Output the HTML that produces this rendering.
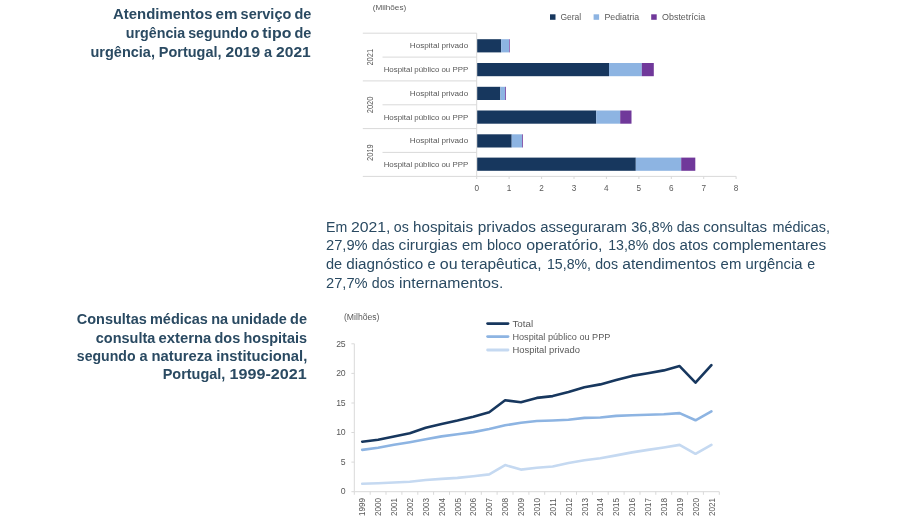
<!DOCTYPE html>
<html lang="pt"><head><meta charset="utf-8"><title>Atendimentos em serviço de urgência</title>
<style>html,body{margin:0;padding:0;background:#fff;}body{width:900px;height:527px;overflow:hidden;}svg{display:block;}text{font-family:"Liberation Sans",sans-serif;}.t{font-weight:bold;font-size:15px;fill:#2a4a62;}.p{font-size:15.2px;fill:#2a4a62;}.c{font-size:8px;fill:#595959;}</style></head><body>
<svg width="900" height="527" viewBox="0 0 900 527">
<rect width="900" height="527" fill="#fff"/>
<text class="t" y="19.0"><tspan x="113.0" textLength="99.5" lengthAdjust="spacingAndGlyphs">Atendimentos</tspan> <tspan x="215.6" textLength="21.9" lengthAdjust="spacingAndGlyphs">em</tspan> <tspan x="240.6" textLength="50.7" lengthAdjust="spacingAndGlyphs">serviço</tspan> <tspan x="294.4" textLength="16.9" lengthAdjust="spacingAndGlyphs">de</tspan></text>
<text class="t" y="37.8"><tspan x="125.8" textLength="59.4" lengthAdjust="spacingAndGlyphs">urgência</tspan> <tspan x="188.2" textLength="59.4" lengthAdjust="spacingAndGlyphs">segundo</tspan> <tspan x="250.5" textLength="8.8" lengthAdjust="spacingAndGlyphs">o</tspan> <tspan x="262.3" textLength="29.1" lengthAdjust="spacingAndGlyphs">tipo</tspan> <tspan x="294.4" textLength="16.9" lengthAdjust="spacingAndGlyphs">de</tspan></text>
<text class="t" y="56.6"><tspan x="90.5" textLength="64.4" lengthAdjust="spacingAndGlyphs">urgência,</tspan> <tspan x="158.8" textLength="62.7" lengthAdjust="spacingAndGlyphs">Portugal,</tspan> <tspan x="225.5" textLength="34.7" lengthAdjust="spacingAndGlyphs">2019</tspan> <tspan x="264.1" textLength="8.1" lengthAdjust="spacingAndGlyphs">a</tspan> <tspan x="276.1" textLength="34.7" lengthAdjust="spacingAndGlyphs">2021</tspan></text>
<text class="t" y="324.2"><tspan x="76.8" textLength="70.0" lengthAdjust="spacingAndGlyphs">Consultas</tspan> <tspan x="150.0" textLength="57.9" lengthAdjust="spacingAndGlyphs">médicas</tspan> <tspan x="211.2" textLength="16.9" lengthAdjust="spacingAndGlyphs">na</tspan> <tspan x="231.4" textLength="55.5" lengthAdjust="spacingAndGlyphs">unidade</tspan> <tspan x="290.1" textLength="16.9" lengthAdjust="spacingAndGlyphs">de</tspan></text>
<text class="t" y="342.5"><tspan x="95.8" textLength="59.5" lengthAdjust="spacingAndGlyphs">consulta</tspan> <tspan x="158.5" textLength="52.8" lengthAdjust="spacingAndGlyphs">externa</tspan> <tspan x="214.5" textLength="25.7" lengthAdjust="spacingAndGlyphs">dos</tspan> <tspan x="243.5" textLength="63.5" lengthAdjust="spacingAndGlyphs">hospitais</tspan></text>
<text class="t" y="360.8"><tspan x="76.8" textLength="58.7" lengthAdjust="spacingAndGlyphs">segundo</tspan> <tspan x="139.5" textLength="8.1" lengthAdjust="spacingAndGlyphs">a</tspan> <tspan x="151.5" textLength="60.8" lengthAdjust="spacingAndGlyphs">natureza</tspan> <tspan x="216.2" textLength="91.1" lengthAdjust="spacingAndGlyphs">institucional,</tspan></text>
<text class="t" y="379.3"><tspan x="162.7" textLength="62.7" lengthAdjust="spacingAndGlyphs">Portugal,</tspan> <tspan x="229.6" textLength="77.1" lengthAdjust="spacingAndGlyphs">1999-2021</tspan></text>
<text class="p" y="231.5"><tspan x="326.1" textLength="21.2" lengthAdjust="spacingAndGlyphs">Em</tspan> <tspan x="351.0" textLength="39.5" lengthAdjust="spacingAndGlyphs">2021,</tspan> <tspan x="393.8" textLength="15.0" lengthAdjust="spacingAndGlyphs">os</tspan> <tspan x="413.1" textLength="59.9" lengthAdjust="spacingAndGlyphs">hospitais</tspan> <tspan x="477.8" textLength="58.1" lengthAdjust="spacingAndGlyphs">privados</tspan> <tspan x="540.2" textLength="86.6" lengthAdjust="spacingAndGlyphs">asseguraram</tspan> <tspan x="631.2" textLength="41.6" lengthAdjust="spacingAndGlyphs">36,8%</tspan> <tspan x="676.7" textLength="22.8" lengthAdjust="spacingAndGlyphs">das</tspan> <tspan x="703.3" textLength="63.8" lengthAdjust="spacingAndGlyphs">consultas</tspan> <tspan x="772.4" textLength="57.6" lengthAdjust="spacingAndGlyphs">médicas,</tspan></text>
<text class="p" y="250.4"><tspan x="326.0" textLength="41.6" lengthAdjust="spacingAndGlyphs">27,9%</tspan> <tspan x="371.8" textLength="22.8" lengthAdjust="spacingAndGlyphs">das</tspan> <tspan x="398.6" textLength="59.0" lengthAdjust="spacingAndGlyphs">cirurgias</tspan> <tspan x="462.0" textLength="20.6" lengthAdjust="spacingAndGlyphs">em</tspan> <tspan x="487.0" textLength="34.7" lengthAdjust="spacingAndGlyphs">bloco</tspan> <tspan x="526.2" textLength="76.3" lengthAdjust="spacingAndGlyphs">operatório,</tspan> <tspan x="608.2" textLength="40.1" lengthAdjust="spacingAndGlyphs">13,8%</tspan> <tspan x="652.5" textLength="22.8" lengthAdjust="spacingAndGlyphs">dos</tspan> <tspan x="679.6" textLength="28.5" lengthAdjust="spacingAndGlyphs">atos</tspan> <tspan x="712.7" textLength="113.6" lengthAdjust="spacingAndGlyphs">complementares</tspan></text>
<text class="p" y="269.2"><tspan x="326.0" textLength="16.2" lengthAdjust="spacingAndGlyphs">de</tspan> <tspan x="346.2" textLength="77.1" lengthAdjust="spacingAndGlyphs">diagnóstico</tspan> <tspan x="427.6" textLength="8.1" lengthAdjust="spacingAndGlyphs">e</tspan> <tspan x="439.8" textLength="17.8" lengthAdjust="spacingAndGlyphs">ou</tspan> <tspan x="460.9" textLength="80.6" lengthAdjust="spacingAndGlyphs">terapêutica,</tspan> <tspan x="547.0" textLength="44.0" lengthAdjust="spacingAndGlyphs">15,8%,</tspan> <tspan x="595.2" textLength="22.8" lengthAdjust="spacingAndGlyphs">dos</tspan> <tspan x="622.3" textLength="93.7" lengthAdjust="spacingAndGlyphs">atendimentos</tspan> <tspan x="720.6" textLength="20.7" lengthAdjust="spacingAndGlyphs">em</tspan> <tspan x="745.6" textLength="57.0" lengthAdjust="spacingAndGlyphs">urgência</tspan> <tspan x="807.3" textLength="7.9" lengthAdjust="spacingAndGlyphs">e</tspan></text>
<text class="p" y="288.0"><tspan x="326.0" textLength="41.6" lengthAdjust="spacingAndGlyphs">27,7%</tspan> <tspan x="371.8" textLength="22.8" lengthAdjust="spacingAndGlyphs">dos</tspan> <tspan x="399.1" textLength="104.2" lengthAdjust="spacingAndGlyphs">internamentos.</tspan></text>
<text class="c" x="372.7" y="10.4" textLength="33.5" lengthAdjust="spacingAndGlyphs">(Milhões)</text>
<rect x="550.0" y="14.3" width="5.5" height="5.5" fill="#17375e"/>
<text class="c" x="560.4" y="20.0" textLength="20.8" lengthAdjust="spacingAndGlyphs" style="font-size:8.8px">Geral</text>
<rect x="593.6" y="14.3" width="5.5" height="5.5" fill="#8db4e2"/>
<text class="c" x="604.4" y="20.0" textLength="34.8" lengthAdjust="spacingAndGlyphs" style="font-size:8.8px">Pediatria</text>
<rect x="651.2" y="14.3" width="5.5" height="5.5" fill="#70389a"/>
<text class="c" x="662.0" y="20.0" textLength="43.2" lengthAdjust="spacingAndGlyphs" style="font-size:8.8px">Obstetrícia</text>
<g stroke="#d9d9d9" stroke-width="1" fill="none">
<path d="M362.8 33.2H476.7"/>
<path d="M382.5 57.1H476.7"/>
<path d="M362.8 80.9H476.7"/>
<path d="M382.5 104.8H476.7"/>
<path d="M362.8 128.6H476.7"/>
<path d="M382.5 152.4H476.7"/>
<path d="M476.7 33.2V176.4"/>
<path d="M362.8 176.4H736.2"/>
<path d="M476.7 176.4V179"/>
<path d="M509.1 176.4V179"/>
<path d="M541.6 176.4V179"/>
<path d="M574.0 176.4V179"/>
<path d="M606.4 176.4V179"/>
<path d="M638.9 176.4V179"/>
<path d="M671.3 176.4V179"/>
<path d="M703.7 176.4V179"/>
<path d="M736.1 176.4V179"/>
</g>
<text class="c" x="476.7" y="190.5" text-anchor="middle" style="font-size:8.2px">0</text>
<text class="c" x="509.1" y="190.5" text-anchor="middle" style="font-size:8.2px">1</text>
<text class="c" x="541.6" y="190.5" text-anchor="middle" style="font-size:8.2px">2</text>
<text class="c" x="574.0" y="190.5" text-anchor="middle" style="font-size:8.2px">3</text>
<text class="c" x="606.4" y="190.5" text-anchor="middle" style="font-size:8.2px">4</text>
<text class="c" x="638.9" y="190.5" text-anchor="middle" style="font-size:8.2px">5</text>
<text class="c" x="671.3" y="190.5" text-anchor="middle" style="font-size:8.2px">6</text>
<text class="c" x="703.7" y="190.5" text-anchor="middle" style="font-size:8.2px">7</text>
<text class="c" x="736.1" y="190.5" text-anchor="middle" style="font-size:8.2px">8</text>
<rect x="477.2" y="39.2" width="24.0" height="13.2" fill="#17375e"/>
<rect x="501.2" y="39.2" width="7.8" height="13.2" fill="#8db4e2"/>
<rect x="509.0" y="39.2" width="0.7" height="13.2" fill="#70389a"/>
<text class="c" x="468.2" y="48.2" text-anchor="end" textLength="58.4" lengthAdjust="spacingAndGlyphs" style="font-size:7.8px">Hospital privado</text>
<rect x="477.2" y="63.0" width="131.8" height="13.2" fill="#17375e"/>
<rect x="609.0" y="63.0" width="32.8" height="13.2" fill="#8db4e2"/>
<rect x="641.8" y="63.0" width="12.0" height="13.2" fill="#70389a"/>
<text class="c" x="468.2" y="72.0" text-anchor="end" textLength="84.5" lengthAdjust="spacingAndGlyphs" style="font-size:7.8px">Hospital público ou PPP</text>
<rect x="477.2" y="86.8" width="23.1" height="13.2" fill="#17375e"/>
<rect x="500.3" y="86.8" width="4.9" height="13.2" fill="#8db4e2"/>
<rect x="505.2" y="86.8" width="0.8" height="13.2" fill="#70389a"/>
<text class="c" x="468.2" y="95.8" text-anchor="end" textLength="58.4" lengthAdjust="spacingAndGlyphs" style="font-size:7.8px">Hospital privado</text>
<rect x="477.2" y="110.5" width="119.0" height="13.2" fill="#17375e"/>
<rect x="596.2" y="110.5" width="24.0" height="13.2" fill="#8db4e2"/>
<rect x="620.2" y="110.5" width="11.3" height="13.2" fill="#70389a"/>
<text class="c" x="468.2" y="119.5" text-anchor="end" textLength="84.5" lengthAdjust="spacingAndGlyphs" style="font-size:7.8px">Hospital público ou PPP</text>
<rect x="477.2" y="134.3" width="34.5" height="13.2" fill="#17375e"/>
<rect x="511.7" y="134.3" width="10.3" height="13.2" fill="#8db4e2"/>
<rect x="522.0" y="134.3" width="0.8" height="13.2" fill="#70389a"/>
<text class="c" x="468.2" y="143.3" text-anchor="end" textLength="58.4" lengthAdjust="spacingAndGlyphs" style="font-size:7.8px">Hospital privado</text>
<rect x="477.2" y="157.6" width="158.6" height="13.2" fill="#17375e"/>
<rect x="635.8" y="157.6" width="45.4" height="13.2" fill="#8db4e2"/>
<rect x="681.2" y="157.6" width="14.1" height="13.2" fill="#70389a"/>
<text class="c" x="468.2" y="166.6" text-anchor="end" textLength="84.5" lengthAdjust="spacingAndGlyphs" style="font-size:7.8px">Hospital público ou PPP</text>
<text class="c" transform="translate(372.6 57.2) rotate(-90)" text-anchor="middle" textLength="16.8" lengthAdjust="spacingAndGlyphs" style="font-size:9px">2021</text>
<text class="c" transform="translate(372.6 104.9) rotate(-90)" text-anchor="middle" textLength="16.8" lengthAdjust="spacingAndGlyphs" style="font-size:9px">2020</text>
<text class="c" transform="translate(372.6 152.6) rotate(-90)" text-anchor="middle" textLength="16.8" lengthAdjust="spacingAndGlyphs" style="font-size:9px">2019</text>
<text class="c" x="344.0" y="319.7" textLength="35.5" lengthAdjust="spacingAndGlyphs" style="font-size:8.4px">(Milhões)</text>
<g stroke="#d9d9d9" stroke-width="1" fill="none">
<path d="M354.3 343.7V491.7"/>
<path d="M354.3 491.7H719.3"/>
<path d="M351.4 491.7H354.3"/>
<path d="M351.4 462.1H354.3"/>
<path d="M351.4 432.5H354.3"/>
<path d="M351.4 403.0H354.3"/>
<path d="M351.4 373.4H354.3"/>
<path d="M351.4 343.8H354.3"/>
<path d="M354.3 491.7V494.8"/>
<path d="M370.2 491.7V494.8"/>
<path d="M386.0 491.7V494.8"/>
<path d="M401.9 491.7V494.8"/>
<path d="M417.8 491.7V494.8"/>
<path d="M433.6 491.7V494.8"/>
<path d="M449.5 491.7V494.8"/>
<path d="M465.4 491.7V494.8"/>
<path d="M481.3 491.7V494.8"/>
<path d="M497.1 491.7V494.8"/>
<path d="M513.0 491.7V494.8"/>
<path d="M528.9 491.7V494.8"/>
<path d="M544.7 491.7V494.8"/>
<path d="M560.6 491.7V494.8"/>
<path d="M576.5 491.7V494.8"/>
<path d="M592.4 491.7V494.8"/>
<path d="M608.2 491.7V494.8"/>
<path d="M624.1 491.7V494.8"/>
<path d="M640.0 491.7V494.8"/>
<path d="M655.8 491.7V494.8"/>
<path d="M671.7 491.7V494.8"/>
<path d="M687.6 491.7V494.8"/>
<path d="M703.4 491.7V494.8"/>
<path d="M719.3 491.7V494.8"/>
</g>
<text class="c" x="345.3" y="494.4" text-anchor="end" style="font-size:8.7px;letter-spacing:-0.3px">0</text>
<text class="c" x="345.3" y="464.8" text-anchor="end" style="font-size:8.7px;letter-spacing:-0.3px">5</text>
<text class="c" x="345.3" y="435.2" text-anchor="end" style="font-size:8.7px;letter-spacing:-0.3px">10</text>
<text class="c" x="345.3" y="405.7" text-anchor="end" style="font-size:8.7px;letter-spacing:-0.3px">15</text>
<text class="c" x="345.3" y="376.1" text-anchor="end" style="font-size:8.7px;letter-spacing:-0.3px">20</text>
<text class="c" x="345.3" y="346.5" text-anchor="end" style="font-size:8.7px;letter-spacing:-0.3px">25</text>
<text class="c" transform="translate(365.3 498.0) rotate(-90)" text-anchor="end" textLength="18.1" lengthAdjust="spacingAndGlyphs" style="font-size:9.4px">1999</text>
<text class="c" transform="translate(381.2 498.0) rotate(-90)" text-anchor="end" textLength="18.1" lengthAdjust="spacingAndGlyphs" style="font-size:9.4px">2000</text>
<text class="c" transform="translate(397.1 498.0) rotate(-90)" text-anchor="end" textLength="18.1" lengthAdjust="spacingAndGlyphs" style="font-size:9.4px">2001</text>
<text class="c" transform="translate(412.9 498.0) rotate(-90)" text-anchor="end" textLength="18.1" lengthAdjust="spacingAndGlyphs" style="font-size:9.4px">2002</text>
<text class="c" transform="translate(428.8 498.0) rotate(-90)" text-anchor="end" textLength="18.1" lengthAdjust="spacingAndGlyphs" style="font-size:9.4px">2003</text>
<text class="c" transform="translate(444.7 498.0) rotate(-90)" text-anchor="end" textLength="18.1" lengthAdjust="spacingAndGlyphs" style="font-size:9.4px">2004</text>
<text class="c" transform="translate(460.6 498.0) rotate(-90)" text-anchor="end" textLength="18.1" lengthAdjust="spacingAndGlyphs" style="font-size:9.4px">2005</text>
<text class="c" transform="translate(476.4 498.0) rotate(-90)" text-anchor="end" textLength="18.1" lengthAdjust="spacingAndGlyphs" style="font-size:9.4px">2006</text>
<text class="c" transform="translate(492.3 498.0) rotate(-90)" text-anchor="end" textLength="18.1" lengthAdjust="spacingAndGlyphs" style="font-size:9.4px">2007</text>
<text class="c" transform="translate(508.2 498.0) rotate(-90)" text-anchor="end" textLength="18.1" lengthAdjust="spacingAndGlyphs" style="font-size:9.4px">2008</text>
<text class="c" transform="translate(524.0 498.0) rotate(-90)" text-anchor="end" textLength="18.1" lengthAdjust="spacingAndGlyphs" style="font-size:9.4px">2009</text>
<text class="c" transform="translate(539.9 498.0) rotate(-90)" text-anchor="end" textLength="18.1" lengthAdjust="spacingAndGlyphs" style="font-size:9.4px">2010</text>
<text class="c" transform="translate(555.8 498.0) rotate(-90)" text-anchor="end" textLength="18.1" lengthAdjust="spacingAndGlyphs" style="font-size:9.4px">2011</text>
<text class="c" transform="translate(571.6 498.0) rotate(-90)" text-anchor="end" textLength="18.1" lengthAdjust="spacingAndGlyphs" style="font-size:9.4px">2012</text>
<text class="c" transform="translate(587.5 498.0) rotate(-90)" text-anchor="end" textLength="18.1" lengthAdjust="spacingAndGlyphs" style="font-size:9.4px">2013</text>
<text class="c" transform="translate(603.4 498.0) rotate(-90)" text-anchor="end" textLength="18.1" lengthAdjust="spacingAndGlyphs" style="font-size:9.4px">2014</text>
<text class="c" transform="translate(619.3 498.0) rotate(-90)" text-anchor="end" textLength="18.1" lengthAdjust="spacingAndGlyphs" style="font-size:9.4px">2015</text>
<text class="c" transform="translate(635.1 498.0) rotate(-90)" text-anchor="end" textLength="18.1" lengthAdjust="spacingAndGlyphs" style="font-size:9.4px">2016</text>
<text class="c" transform="translate(651.0 498.0) rotate(-90)" text-anchor="end" textLength="18.1" lengthAdjust="spacingAndGlyphs" style="font-size:9.4px">2017</text>
<text class="c" transform="translate(666.9 498.0) rotate(-90)" text-anchor="end" textLength="18.1" lengthAdjust="spacingAndGlyphs" style="font-size:9.4px">2018</text>
<text class="c" transform="translate(682.7 498.0) rotate(-90)" text-anchor="end" textLength="18.1" lengthAdjust="spacingAndGlyphs" style="font-size:9.4px">2019</text>
<text class="c" transform="translate(698.6 498.0) rotate(-90)" text-anchor="end" textLength="18.1" lengthAdjust="spacingAndGlyphs" style="font-size:9.4px">2020</text>
<text class="c" transform="translate(714.5 498.0) rotate(-90)" text-anchor="end" textLength="18.1" lengthAdjust="spacingAndGlyphs" style="font-size:9.4px">2021</text>
<polyline points="362.2,483.7 378.1,483.2 394.0,482.5 409.8,481.8 425.7,480.0 441.6,478.9 457.5,477.9 473.3,476.2 489.2,474.4 505.1,465.1 520.9,469.6 536.8,467.8 552.7,466.5 568.5,463.0 584.4,460.3 600.3,458.3 616.2,455.4 632.0,452.4 647.9,449.9 663.8,447.5 679.6,444.9 695.5,453.8 711.4,444.9" fill="none" stroke="#c5d9f1" stroke-width="2.6" stroke-linecap="round" stroke-linejoin="round"/>
<polyline points="362.2,449.9 378.1,447.8 394.0,444.8 409.8,442.2 425.7,439.3 441.6,436.4 457.5,434.2 473.3,432.1 489.2,429.0 505.1,425.3 520.9,422.7 536.8,421.0 552.7,420.5 568.5,419.8 584.4,417.9 600.3,417.5 616.2,415.9 632.0,415.3 647.9,414.8 663.8,414.3 679.6,413.1 695.5,420.3 711.4,411.4" fill="none" stroke="#8db4e2" stroke-width="2.6" stroke-linecap="round" stroke-linejoin="round"/>
<polyline points="362.2,441.7 378.1,439.8 394.0,436.4 409.8,433.3 425.7,427.8 441.6,423.9 457.5,420.5 473.3,416.7 489.2,412.2 505.1,400.3 520.9,402.2 536.8,397.9 552.7,396.1 568.5,392.0 584.4,387.2 600.3,384.4 616.2,380.0 632.0,375.9 647.9,373.3 663.8,370.4 679.6,366.1 695.5,382.7 711.4,365.1" fill="none" stroke="#17375e" stroke-width="2.6" stroke-linecap="round" stroke-linejoin="round"/>
<path d="M487.6 323.6H508" stroke="#17375e" stroke-width="2.8" stroke-linecap="round" fill="none"/>
<text class="c" x="512.4" y="326.7" textLength="20.8" lengthAdjust="spacingAndGlyphs" style="font-size:8.8px">Total</text>
<path d="M487.6 336.6H508" stroke="#8db4e2" stroke-width="2.8" stroke-linecap="round" fill="none"/>
<text class="c" x="512.4" y="339.7" textLength="98.0" lengthAdjust="spacingAndGlyphs" style="font-size:8.8px">Hospital público ou PPP</text>
<path d="M487.6 350.0H508" stroke="#c5d9f1" stroke-width="2.8" stroke-linecap="round" fill="none"/>
<text class="c" x="512.4" y="353.1" textLength="67.6" lengthAdjust="spacingAndGlyphs" style="font-size:8.8px">Hospital privado</text>
</svg></body></html>
